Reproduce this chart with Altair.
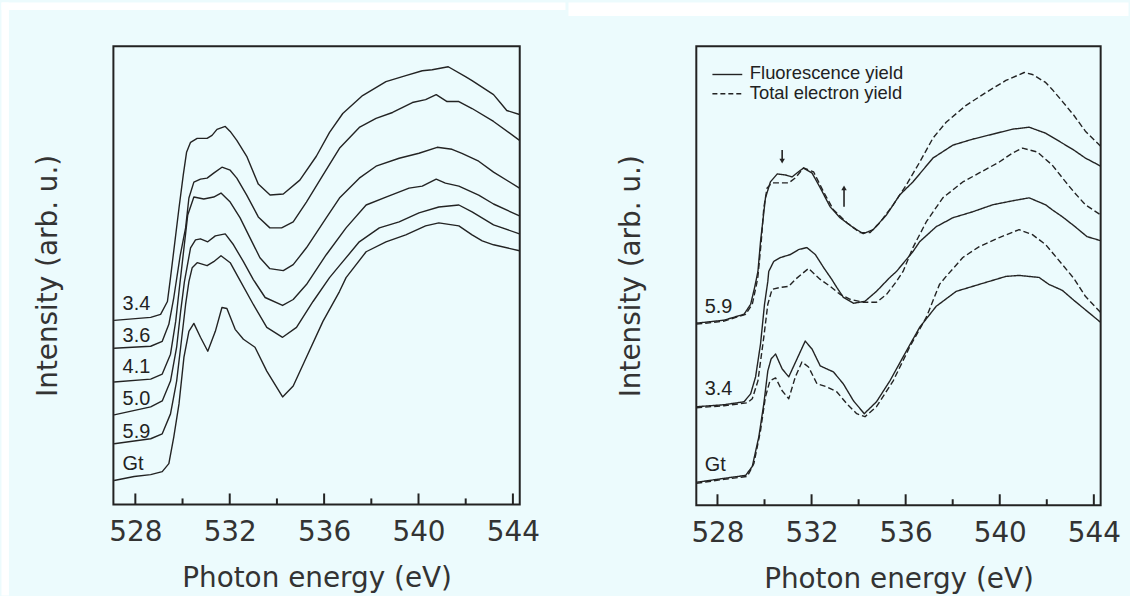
import altair as alt
import pandas as pd

# ------------------------------------------------------------------
# Data (energy in eV, intensity in arb. units)
# ------------------------------------------------------------------
LEFT_NAMES = ["3.4", "3.6", "4.1", "5.0", "5.9", "Gt"]

L1_E = [527.10, 528.65, 529.07, 529.36, 529.48, 529.85, 530.03, 530.17, 530.34, 530.62, 531.04, 531.25,
        531.46, 531.81, 532.02, 532.30, 532.72, 533.21, 533.71, 534.27, 534.97, 535.67, 536.23, 536.79,
        537.63, 538.62, 539.46, 540.16, 540.58, 541.26, 541.99, 542.27, 543.18, 543.46, 543.74, 544.28]
L1_I = [185, 188, 191, 204, 226, 298, 331, 354, 364, 368, 368, 371,
        377, 380, 375, 366, 350, 322, 311, 312, 326, 350, 374, 393,
        411, 425, 431, 436, 437, 440, 430, 426, 412, 404, 396, 392]

L2_E = [527.10, 528.65, 529.14, 529.42, 529.63, 529.90, 530.13, 530.27, 530.48, 530.76, 531.04, 531.32,
        531.67, 532.02, 532.30, 532.72, 533.21, 533.70, 534.20, 534.69, 535.25, 535.95, 536.65, 537.49,
        538.20, 538.90, 539.74, 540.30, 540.75, 541.21, 541.71, 542.27, 543.18, 544.28]
L2_I = [157, 159, 164, 181, 208, 250, 278, 308, 324, 327, 328, 333,
        339, 336, 328, 311, 289, 278, 278, 284, 304, 331, 358, 379,
        388, 394, 404, 407, 412, 405, 405, 398, 385, 366]

L3_E = [527.10, 528.65, 529.14, 529.49, 529.71, 529.85, 530.22, 530.48, 530.90, 531.32, 531.63, 532.02,
        532.44, 532.86, 533.28, 533.70, 534.27, 534.69, 535.25, 536.09, 536.65, 537.49, 538.20, 539.18,
        540.02, 540.79, 541.42, 541.84, 542.55, 543.18, 544.28]
L3_I = [123, 126, 131, 151, 184, 214, 291, 309, 307, 309, 313, 304,
        288, 268, 248, 237, 235, 241, 258, 288, 308, 328, 340, 348,
        353, 359, 357, 353, 345, 334, 318]

L4_E = [527.10, 528.65, 529.14, 529.49, 529.75, 529.92, 530.08, 530.34, 530.55, 530.76, 531.07, 531.39,
        531.81, 532.16, 532.58, 533.00, 533.50, 534.24, 534.69, 535.25, 535.53, 536.09, 536.93, 537.78,
        538.62, 539.60, 540.16, 540.75, 541.14, 541.71, 542.55, 543.18, 544.28]
L4_I = [90, 98, 104, 124, 158, 194, 224, 258, 266, 267, 264, 270,
        272, 261, 244, 226, 208, 200, 206, 221, 231, 251, 278, 301,
        309, 318, 320, 327, 323, 320, 311, 302, 290]

L5_E = [527.10, 528.65, 529.14, 529.49, 529.75, 529.92, 530.13, 530.27, 530.41, 530.62, 531.04, 531.32,
        531.63, 532.02, 532.37, 533.00, 533.57, 534.24, 534.83, 535.53, 536.23, 536.65, 537.49, 538.34,
        539.18, 540.02, 540.86, 541.71, 542.27, 543.18, 544.28]
L5_I = [61, 66, 71, 91, 124, 158, 201, 224, 238, 243, 240, 244,
        250, 243, 228, 201, 178, 168, 178, 204, 228, 240, 264, 278,
        284, 293, 299, 301, 294, 281, 272]

L6_E = [527.10, 527.95, 528.65, 529.14, 529.42, 529.63, 529.85, 530.06, 530.27, 530.48, 530.76, 531.07,
        531.39, 531.67, 531.88, 532.23, 532.58, 533.07, 533.57, 534.24, 534.69, 535.25, 535.95, 536.65,
        536.93, 537.78, 538.62, 539.46, 540.30, 540.86, 541.71, 542.27, 542.70, 543.18, 544.28]
L6_I = [24, 28, 30, 33, 41, 68, 101, 148, 174, 182, 168, 154,
        174, 198, 197, 176, 166, 158, 134, 108, 119, 148, 184, 214,
        228, 254, 264, 271, 280, 283, 280, 271, 265, 261, 255]

RIGHT_NAMES = ["5.9", "3.4", "Gt"]

R1_FY_E = [527.10, 528.28, 529.13, 529.41, 529.58, 529.72, 529.83, 530.04, 530.25, 530.54, 530.89, 531.17,
           531.38, 531.66, 532.02, 532.37, 532.79, 533.21, 533.78, 534.20, 534.62, 535.19, 535.75, 536.31,
           537.16, 538.01, 538.85, 539.70, 540.54, 541.25, 541.95, 542.66, 543.15, 543.64, 544.28]
R1_FY_I = [183, 186, 192, 202, 219, 235, 265, 309, 325, 333, 332, 330,
           334, 339, 334, 319, 300, 289, 279, 273, 277, 292, 312, 325,
           349, 362, 368, 373, 378, 380, 374, 364, 357, 349, 341]
R1_TEY_E = [527.10, 528.28, 529.20, 529.48, 529.66, 529.72, 529.86, 529.97, 530.11, 530.32, 530.68, 531.03,
            531.31, 531.66, 532.09, 532.51, 532.93, 533.50, 534.06, 534.48, 534.90, 535.47, 536.03, 536.60,
            537.16, 537.72, 538.57, 539.42, 540.26, 541.04, 541.39, 541.95, 542.23, 542.66, 543.15, 543.64,
            544.28]
R1_TEY_I = [182, 185, 192, 202, 222, 230, 265, 299, 319, 324, 324, 324,
            329, 339, 335, 315, 297, 284, 274, 274, 284, 302, 322, 345,
            369, 385, 402, 415, 427, 435, 433, 425, 418, 406, 392, 376,
            361]

R2_FY_E = [527.10, 528.28, 529.13, 529.41, 529.62, 529.83, 530.00, 530.14, 530.18, 530.39, 530.68, 531.10,
           531.45, 531.80, 532.16, 532.51, 532.86, 533.07, 533.35, 533.78, 534.27, 534.76, 535.33, 535.61,
           536.31, 536.60, 537.30, 538.01, 538.85, 539.70, 540.54, 541.25, 541.95, 542.23, 542.66, 543.15,
           543.71, 544.28]
R2_FY_I = [99, 101, 104, 112, 129, 162, 202, 225, 235, 245, 249, 252,
           257, 259, 252, 239, 227, 219, 209, 203, 205, 215, 229, 235,
           255, 265, 280, 289, 295, 302, 306, 309, 302, 297, 290, 281,
           270, 266]
R2_TEY_E = [527.10, 528.28, 529.27, 529.48, 529.72, 529.97, 530.14, 530.32, 530.68, 531.03, 531.31, 531.87,
            532.37, 532.79, 533.21, 533.64, 534.20, 534.76, 535.19, 535.61, 535.89, 536.31, 536.88, 537.58,
            538.43, 539.13, 539.98, 540.54, 540.97, 541.60, 542.23, 542.80, 543.15, 543.64, 544.28]
R2_TEY_I = [98, 100, 103, 107, 125, 169, 202, 217, 219, 220, 227, 238,
            227, 220, 212, 207, 204, 204, 212, 225, 235, 259, 285, 309,
            325, 334, 345, 354, 359, 355, 342, 325, 315, 302, 292]

R3_FY_E = [527.10, 528.28, 529.20, 529.48, 529.76, 529.97, 530.14, 530.28, 530.47, 530.75, 531.03, 531.38,
           531.73, 532.02, 532.37, 532.93, 533.35, 533.78, 534.24, 534.76, 535.33, 536.03, 536.60, 537.30,
           538.15, 539.13, 540.26, 540.82, 541.67, 542.09, 542.66, 543.15, 544.28]
R3_FY_I = [23, 27, 30, 39, 69, 102, 135, 147, 152, 137, 129, 147,
           165, 157, 140, 134, 122, 105, 92, 104, 125, 155, 179, 200,
           215, 222, 230, 231, 229, 222, 216, 206, 184]
R3_TEY_E = [527.10, 528.28, 529.27, 529.55, 529.83, 530.04, 530.23, 530.47, 530.75, 531.03, 531.31, 531.59,
            531.87, 532.23, 532.65, 533.07, 533.50, 533.92, 534.27, 534.76, 535.47, 536.17, 536.88, 537.44,
            537.72, 538.43, 539.13, 539.98, 540.82, 541.39, 541.95, 542.66, 543.15, 543.64, 544.28]
R3_TEY_I = [22, 26, 29, 42, 75, 109, 125, 128, 115, 107, 129, 144,
            139, 122, 119, 114, 102, 92, 89, 99, 125, 159, 189, 222,
            230, 249, 260, 269, 277, 272, 262, 242, 228, 210, 194]

# curve labels (text, energy at label start, intensity of label baseline)
LABEL_E = 527.46
LEFT_LABEL_I = [195, 163, 132, 100, 67, 35]
RIGHT_LABEL_I = [193, 111, 34]

# arrows in the right panel
ARROW_E = [530.75, 533.38]
ARROW_FROM = [357, 300]
ARROW_TO = [346, 319]
ARROW_SHAPE = ["triangle-down", "triangle-up"]

MAJOR_TICKS = [528, 532, 536, 540, 544]
MINOR_TICKS = [530, 534, 538, 542]

# ------------------------------------------------------------------
BG = "#ecfbfd"
LINE = "#232323"
TXT = "#333333"
NUM_FONT = "DejaVu Sans"
SANS = "Liberation Sans"

TOP = 44.0                      # common top of both plot areas
W_L, H_L = 408.5, 504.5 - TOP
W_R, H_R = 406.5, 505.3 - TOP
X_DOM_L = [527.07, 544.29]
X_DOM_R = [527.10, 544.29]


def x_enc(dom):
    return alt.X("E:Q",
                 scale=alt.Scale(domain=dom, nice=False, zero=False),
                 axis=alt.Axis(values=MAJOR_TICKS, title="Photon energy (eV)", grid=False,
                               domain=False, ticks=False, tickSize=0, labelFlush=False,
                               labelFont=NUM_FONT, labelFontSize=28, labelColor=TXT,
                               labelPadding=14.5, titleFont=NUM_FONT, titleFontSize=28,
                               titleFontWeight="normal", titleColor=TXT,
                               titleBaseline="alphabetic", titleY=83))


def y_enc(h, field="I"):
    return alt.Y(f"{field}:Q",
                 scale=alt.Scale(domain=[0, h], nice=False, zero=False),
                 axis=alt.Axis(title="Intensity (arb. u.)", labels=False, ticks=False, tickSize=0,
                               domain=False, grid=False, titleFont=NUM_FONT, titleFontSize=28,
                               titleFontWeight="normal", titleColor=TXT, titleAngle=270,
                               titleBaseline="alphabetic", titleAlign="center",
                               titleX=-57, titleY=h / 2))


def frame(E, I):
    assert len(E) == len(I)
    return list(zip(E, I))


left_rows = []
for name, E, I in zip(LEFT_NAMES, [L1_E, L2_E, L3_E, L4_E, L5_E, L6_E],
                      [L1_I, L2_I, L3_I, L4_I, L5_I, L6_I]):
    for e, i in frame(E, I):
        left_rows.append({"curve": name, "E": e, "I": i})
df_left = pd.DataFrame(left_rows)

right_rows = []
right_sets = [("5.9", "FY", R1_FY_E, R1_FY_I), ("5.9", "TEY", R1_TEY_E, R1_TEY_I),
              ("3.4", "FY", R2_FY_E, R2_FY_I), ("3.4", "TEY", R2_TEY_E, R2_TEY_I),
              ("Gt", "FY", R3_FY_E, R3_FY_I), ("Gt", "TEY", R3_TEY_E, R3_TEY_I)]
for name, kind, E, I in right_sets:
    for e, i in frame(E, I):
        right_rows.append({"curve": name + "-" + kind, "kind": kind, "E": e, "I": i})
df_right = pd.DataFrame(right_rows)

one = pd.DataFrame({"k": [0]})


def strip(x0, x1, y0, y1):
    return alt.Chart(one).mark_rect(color="white").encode(
        x=alt.value(x0), x2=alt.value(x1), y=alt.value(y0), y2=alt.value(y1))


def tick_layers(dom, h):
    major = alt.Chart(pd.DataFrame({"E": MAJOR_TICKS})).mark_rule(color=LINE, strokeWidth=2).encode(
        x=x_enc(dom), y=alt.value(h), y2=alt.value(h - 11))
    minor = alt.Chart(pd.DataFrame({"E": MINOR_TICKS})).mark_rule(color=LINE, strokeWidth=2).encode(
        x=x_enc(dom), y=alt.value(h), y2=alt.value(h - 6))
    return [major, minor]


def label_layer(names, ivals, dom, h):
    d = pd.DataFrame({"label": names, "E": [LABEL_E] * len(names), "I": ivals})
    return alt.Chart(d).mark_text(align="left", baseline="alphabetic", font=SANS, fontSize=20,
                                  color="#222222").encode(x=x_enc(dom), y=y_enc(h), text="label:N")


# ---------------- left panel ----------------
left_lines = alt.Chart(df_left).mark_line(color=LINE, strokeWidth=1.4, strokeJoin="round").encode(
    x=x_enc(X_DOM_L), y=y_enc(H_L), detail="curve:N")

left = alt.layer(
    strip(-112.5, 454.5, -TOP, -TOP + 7.5),
    strip(-112.5, -105, -TOP, 596 - TOP),
    left_lines,
    *tick_layers(X_DOM_L, H_L),
    label_layer(LEFT_NAMES, LEFT_LABEL_I, X_DOM_L, H_L),
).properties(width=W_L, height=H_L)

# ---------------- right panel ----------------
right_lines = alt.Chart(df_right).mark_line(color=LINE, strokeWidth=1.4, strokeJoin="round").encode(
    x=x_enc(X_DOM_R), y=y_enc(H_R), detail="curve:N",
    strokeDash=alt.StrokeDash("kind:N", scale=alt.Scale(domain=["FY", "TEY"], range=[[1, 0], [6, 3]]),
                              legend=None))

df_arrow = pd.DataFrame({"E": ARROW_E, "I": ARROW_FROM, "I2": ARROW_TO, "shape": ARROW_SHAPE})
arrow_shaft = alt.Chart(df_arrow).mark_rule(color=LINE, strokeWidth=1.6).encode(
    x=x_enc(X_DOM_R), y=y_enc(H_R), y2="I2:Q")
arrow_head = alt.Chart(df_arrow).mark_point(filled=True, color=LINE, size=30, opacity=1).encode(
    x=x_enc(X_DOM_R), y=y_enc(H_R, "I2"), shape=alt.Shape("shape:N", scale=None))

LEG_DY = 46.5 - TOP
leg_solid = alt.Chart(one).mark_rule(color=LINE, strokeWidth=1.4).encode(
    x=alt.value(16.2), x2=alt.value(46.2), y=alt.value(25.8 + LEG_DY))
leg_dash = alt.Chart(one).mark_rule(color=LINE, strokeWidth=1.4, strokeDash=[5, 3]).encode(
    x=alt.value(16.2), x2=alt.value(46.2), y=alt.value(45.2 + LEG_DY))
leg_t1 = alt.Chart(one).mark_text(align="left", baseline="alphabetic", font=SANS, fontSize=18.5,
                                  color="#222222").encode(
    x=alt.value(53.8), y=alt.value(30.8 + LEG_DY), text=alt.value("Fluorescence yield"))
leg_t2 = alt.Chart(one).mark_text(align="left", baseline="alphabetic", font=SANS, fontSize=18.5,
                                  color="#222222").encode(
    x=alt.value(53.8), y=alt.value(50.2 + LEG_DY), text=alt.value("Total electron yield"))

right = alt.layer(
    strip(-128.5, 434.5, -TOP, -TOP + 13.5),
    right_lines,
    *tick_layers(X_DOM_R, H_R),
    label_layer(RIGHT_NAMES, RIGHT_LABEL_I, X_DOM_R, H_R),
    arrow_shaft, arrow_head,
    leg_solid, leg_dash, leg_t1, leg_t2,
).properties(width=W_R, height=H_R)

chart = alt.hconcat(left, right, spacing=0).properties(
    background=BG, padding=0
).configure_view(stroke="#222222", strokeWidth=2)

chart.save("out.html", embed_options={"renderer": "svg", "actions": False})
